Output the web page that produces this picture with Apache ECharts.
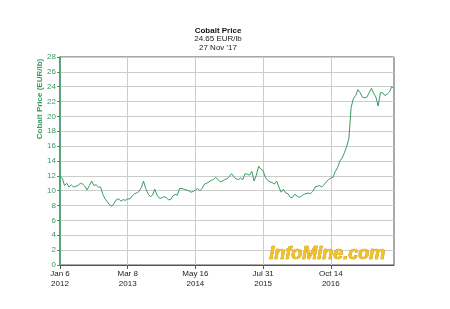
<!DOCTYPE html>
<html>
<head>
<meta charset="utf-8">
<script src="https://cdn.jsdelivr.net/npm/echarts@6/dist/echarts.min.js"></script>
<style>html,body{margin:0;padding:0;background:#fff;}#c{width:450px;height:309px;}</style>
</head>
<body>
<div id="c"></div>
<script>
var tickLabels = {0: 'Jan 6\n2012', 30: 'Mar 8\n2013', 60: 'May 16\n2014', 90: 'Jul 31\n2015', 120: 'Oct 14\n2016'};
var prices = [
12.0,11.7,10.7,11.0,10.5,10.8,10.5,10.6,10.7,11.0,
10.9,10.6,10.1,10.7,11.3,10.7,10.8,10.5,10.5,9.5,
8.9,8.5,8.1,7.9,8.3,8.8,8.9,8.6,8.8,8.7,
8.9,8.9,9.3,9.6,9.7,9.9,10.4,11.3,10.3,9.6,
9.2,9.4,10.2,9.4,9.0,9.0,9.2,9.1,8.8,8.8,
9.3,9.5,9.4,10.3,10.3,10.2,10.1,10.0,9.8,9.9,
10.1,10.3,10.0,10.3,10.9,11.0,11.2,11.4,11.5,11.8,
11.5,11.2,11.3,11.5,11.6,11.9,12.3,11.9,11.6,11.5,
11.7,11.5,12.3,12.2,12.1,12.6,11.3,12.1,13.3,12.9,
12.7,11.8,11.4,11.2,11.1,10.9,11.3,10.5,9.8,10.2,
9.7,9.6,9.1,9.1,9.5,9.3,9.1,9.3,9.5,9.6,
9.7,9.6,9.9,10.5,10.6,10.7,10.5,10.8,11.2,11.5,
11.7,11.8,12.6,13.1,14.0,14.4,15.1,15.9,17.0,21.2,
22.4,22.8,23.6,23.2,22.6,22.5,22.6,23.2,23.8,23.1,
22.6,21.4,23.2,23.2,22.8,23.0,23.3,24.0,23.8
];
var categories = prices.map(function (v, i) { return String(i); });

var chart = echarts.init(document.getElementById('c'));
var green = '#3a9a62';
chart.setOption({
  animation: false,
  backgroundColor: '#fff',
  title: {
    text: 'Cobalt Price',
    subtext: '24.65 EUR/lb\n27 Nov \'17',
    left: 213, top: 21, textAlign: 'center',
    itemGap: 0,
    textStyle: {fontFamily: 'Liberation Sans', fontSize: 8, fontWeight: 'bold', color: '#111', lineHeight: 9},
    subtextStyle: {fontFamily: 'Liberation Sans', fontSize: 8, color: '#222', lineHeight: 8.5}
  },
  grid: {left: 60, right: 56, top: 57, bottom: 44, show: true, borderColor: '#555', borderWidth: 1, containLabel: false},
  xAxis: {
    type: 'category',
    data: categories,
    boundaryGap: false,
    axisLine: {lineStyle: {color: '#555'}},
    axisTick: {show: true, length: 4, interval: function (i) { return i % 30 === 0; }, lineStyle: {color: '#555'}},
    axisLabel: {
      interval: function (i) { return i % 30 === 0; },
      formatter: function (v, i) { return tickLabels[i] || ''; },
      fontFamily: 'Liberation Sans', fontSize: 8, color: '#222', lineHeight: 10, margin: 4
    },
    splitLine: {show: true, interval: function (i) { return i % 30 === 0; }, lineStyle: {color: '#cccccc'}}
  },
  yAxis: {
    type: 'value', min: 0, max: 28, interval: 2,
    axisLine: {show: true, lineStyle: {color: green, width: 1.5}},
    axisTick: {show: true, length: 3, lineStyle: {color: green}},
    axisLabel: {fontFamily: 'Liberation Sans', fontSize: 8, color: green, margin: 4},
    splitLine: {lineStyle: {color: '#cccccc'}}
  },
  graphic: [
    {type: 'text', x: 40, y: 99, rotation: Math.PI / 2,
     style: {text: 'Cobalt Price (EUR/lb)', fill: green, font: 'bold 8px "Liberation Sans"', textAlign: 'center', textVerticalAlign: 'middle'}},
    {type: 'text', left: 269, top: 245, z: 5,
     style: {text: 'InfoMine.com', fill: '#f4c31c', stroke: '#a87a10', lineWidth: 0.6,
       font: 'italic bold 18px "Liberation Sans"', shadowColor: 'rgba(0,0,0,0.35)', shadowOffsetX: 1, shadowOffsetY: 1, shadowBlur: 1}}
  ],
  series: [{
    type: 'line', data: prices, symbol: 'none', smooth: false,
    lineStyle: {color: green, width: 1}, z: 3
  }]
});
</script>
</body>
</html>
